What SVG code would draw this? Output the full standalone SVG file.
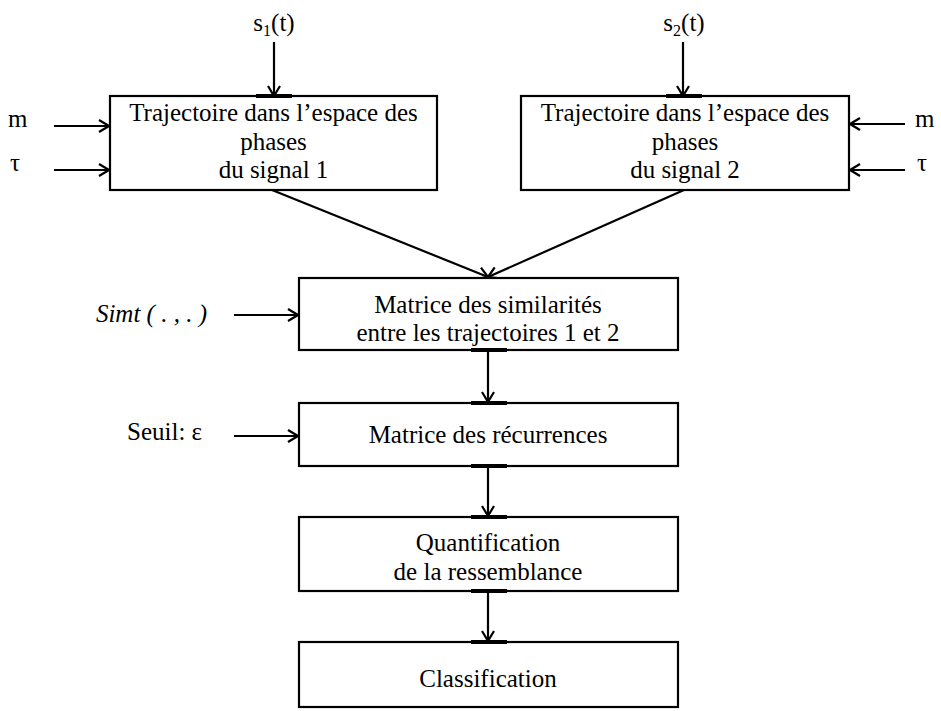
<svg xmlns="http://www.w3.org/2000/svg" width="941" height="711" viewBox="0 0 941 711">
<defs>
<marker id="arr" viewBox="0 0 12 14" refX="11" refY="7" markerWidth="12" markerHeight="14" markerUnits="userSpaceOnUse" orient="auto">
<path d="M1,1 L11,7 L1,13" fill="none" stroke="#000" stroke-width="2.2"/>
</marker>
<style>
.box{fill:#fff;stroke:#000;stroke-width:2.2}
.t{font-family:"Liberation Serif","Times New Roman",serif;font-size:25px;fill:#000}
.c{text-anchor:middle}
.i{font-style:italic}
.ln{stroke:#000;stroke-width:2.2;fill:none;marker-end:url(#arr)}
.tk{stroke:#000;stroke-width:4}
</style>
</defs>
<rect width="941" height="711" fill="#fff"/>
<g id="connectors">
<line class="ln" x1="274" y1="42" x2="274" y2="96"/>
<line class="ln" x1="683" y1="42" x2="683" y2="96"/>
<line class="ln" x1="54" y1="126" x2="109" y2="126"/>
<line class="ln" x1="54" y1="170" x2="109" y2="170"/>
<line class="ln" x1="905" y1="124" x2="850" y2="124"/>
<line class="ln" x1="905" y1="170" x2="850" y2="170"/>
<line class="ln" x1="272" y1="190" x2="488" y2="277"/>
<line class="ln" x1="684" y1="190" x2="488" y2="277"/>
<line class="ln" x1="234" y1="315" x2="298" y2="315"/>
<line class="ln" x1="234" y1="436" x2="298" y2="436"/>
<line class="ln" x1="488" y1="350" x2="488" y2="402"/>
<line class="ln" x1="488" y1="466" x2="488" y2="516"/>
<line class="ln" x1="488" y1="591" x2="488" y2="641"/>
</g>
<g id="in-s1"><text class="t c" x="274" y="31">s<tspan font-size="16" dy="5">1</tspan><tspan dy="-5">(t)</tspan></text></g>
<g id="in-s2"><text class="t c" x="684" y="31">s<tspan font-size="16" dy="5">2</tspan><tspan dy="-5">(t)</tspan></text></g>
<g id="in-m1"><text class="t" x="8" y="127">m</text></g>
<g id="in-tau1"><text class="t" x="10" y="171">τ</text></g>
<g id="in-m2"><text class="t" x="915" y="127">m</text></g>
<g id="in-tau2"><text class="t" x="917" y="171">τ</text></g>
<g id="in-simt"><text class="t i" x="207" y="322" text-anchor="end">Simt ( . , . )</text></g>
<g id="in-seuil"><text class="t" x="127" y="440">Seuil: ε</text></g>
<g id="traj1">
<rect class="box" x="110" y="96" width="327" height="94"/>
<line class="tk" x1="256" y1="96" x2="292" y2="96"/>
<text class="t c" x="273.5" y="121">Trajectoire dans l’espace des</text>
<text class="t c" x="273.5" y="149.5">phases</text>
<text class="t c" x="273.5" y="178">du signal 1</text>
</g>
<g id="traj2">
<rect class="box" x="521" y="96" width="328" height="94"/>
<line class="tk" x1="666" y1="96" x2="702" y2="96"/>
<text class="t c" x="685" y="121">Trajectoire dans l’espace des</text>
<text class="t c" x="685" y="149.5">phases</text>
<text class="t c" x="685" y="178">du signal 2</text>
</g>
<g id="similarites">
<rect class="box" x="299" y="278" width="379" height="72"/>
<line class="tk" x1="471" y1="350" x2="507" y2="350"/>
<text class="t c" x="488" y="313">Matrice des similarités</text>
<text class="t c" x="488" y="341">entre les trajectoires 1 et 2</text>
</g>
<g id="recurrences">
<rect class="box" x="299" y="403" width="379" height="63"/>
<line class="tk" x1="471" y1="403" x2="507" y2="403"/>
<line class="tk" x1="471" y1="466" x2="507" y2="466"/>
<text class="t c" x="488" y="443">Matrice des récurrences</text>
</g>
<g id="quantification">
<rect class="box" x="299" y="517" width="379" height="74"/>
<line class="tk" x1="471" y1="517" x2="507" y2="517"/>
<line class="tk" x1="471" y1="591" x2="507" y2="591"/>
<text class="t c" x="488" y="551">Quantification</text>
<text class="t c" x="488" y="580">de la ressemblance</text>
</g>
<g id="classification">
<rect class="box" x="299" y="642" width="379" height="65"/>
<line class="tk" x1="471" y1="642" x2="507" y2="642"/>
<text class="t c" x="488" y="687">Classification</text>
</g>
</svg>
